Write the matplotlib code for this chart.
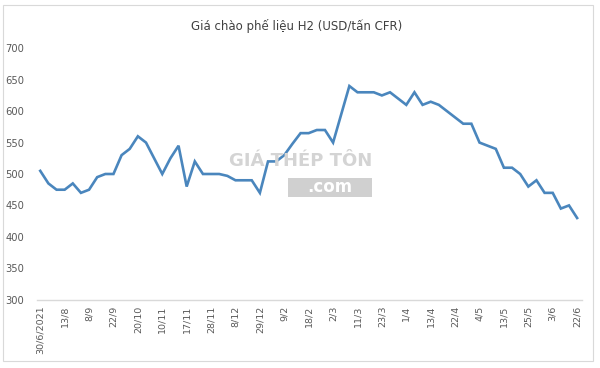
import matplotlib
matplotlib.use("Agg")
import matplotlib.pyplot as plt
from matplotlib.patches import Rectangle

title = "Giá chào phế liệu H2 (USD/tấn CFR)"
tick_labels = ["30/6/2021", "13/8", "8/9", "22/9", "20/10", "10/11", "17/11", "28/11",
               "8/12", "29/12", "9/2", "18/2", "2/3", "11/3", "23/3", "1/4", "13/4",
               "22/4", "4/5", "13/5", "25/5", "3/6", "22/6"]
prices = [505, 485, 475, 475, 485, 470, 475, 495, 500, 500,
          530, 540, 560, 550, 525, 500, 525, 545, 480, 520,
          500, 500, 500, 497, 490, 490, 490, 470, 520, 520,
          530, 548, 565, 565, 570, 570, 550, 595, 640, 630,
          630, 630, 625, 630, 620, 610, 630, 610, 615, 610,
          600, 590, 580, 580, 550, 545, 540, 510, 510, 500,
          480, 490, 470, 470, 445, 450, 430]
label_step = 3

W, H = 600, 368
fig = plt.figure(figsize=(W / 100, H / 100), dpi=100)
fig.patch.set_facecolor("white")

# outer chart frame
fig.add_artist(Rectangle((3 / W, 1 - 361 / H), 590 / W, 356 / H, transform=fig.transFigure,
                         fill=False, edgecolor="#d9d9d9", linewidth=0.8))

left, right, top, bottom = 37, 582, 48.3, 299.7
ax = fig.add_axes([left / W, 1 - bottom / H, (right - left) / W, (bottom - top) / H])

x = list(range(len(prices)))
ax.plot(x, prices, color="#4a86bd", linewidth=1.9, solid_joinstyle="miter", zorder=3)

ax.set_ylim(300, 700)
ax.set_yticks(range(300, 701, 50))
ax.set_xlim(-0.4, len(prices) - 1 + 0.6)
ax.set_xticks(x[::label_step])
ax.set_xticklabels(tick_labels, rotation=90, fontsize=6.8, color="#595959")
for lbl in ax.get_yticklabels():
    lbl.set_fontsize(7.2)
    lbl.set_color("#595959")
ax.tick_params(axis="both", length=0, pad=4)
ax.tick_params(axis="y", pad=9)
for s in ["top", "right", "left"]:
    ax.spines[s].set_visible(False)
ax.spines["bottom"].set_color("#d9d9d9")
ax.spines["bottom"].set_linewidth(1.0)

fig.text(297 / W, 1 - 26 / H, title, ha="center", va="center", fontsize=8.5, color="#404040")

# watermark
fig.text(301 / W, 1 - 161 / H, "GIÁ THÉP TÔN", ha="center", va="center", fontsize=13,
         fontweight="bold", color="#d4d4d4", zorder=1)
fig.add_artist(Rectangle((288 / W, 1 - 197 / H), 84 / W, 19 / H, transform=fig.transFigure,
                         facecolor="#d0d0d0", edgecolor="none", zorder=1))
fig.text(330 / W, 1 - 187.5 / H, ".com", ha="center", va="center", fontsize=12,
         fontweight="bold", color="white", zorder=1.5)

fig.savefig("out.png", dpi=100, facecolor="white")
